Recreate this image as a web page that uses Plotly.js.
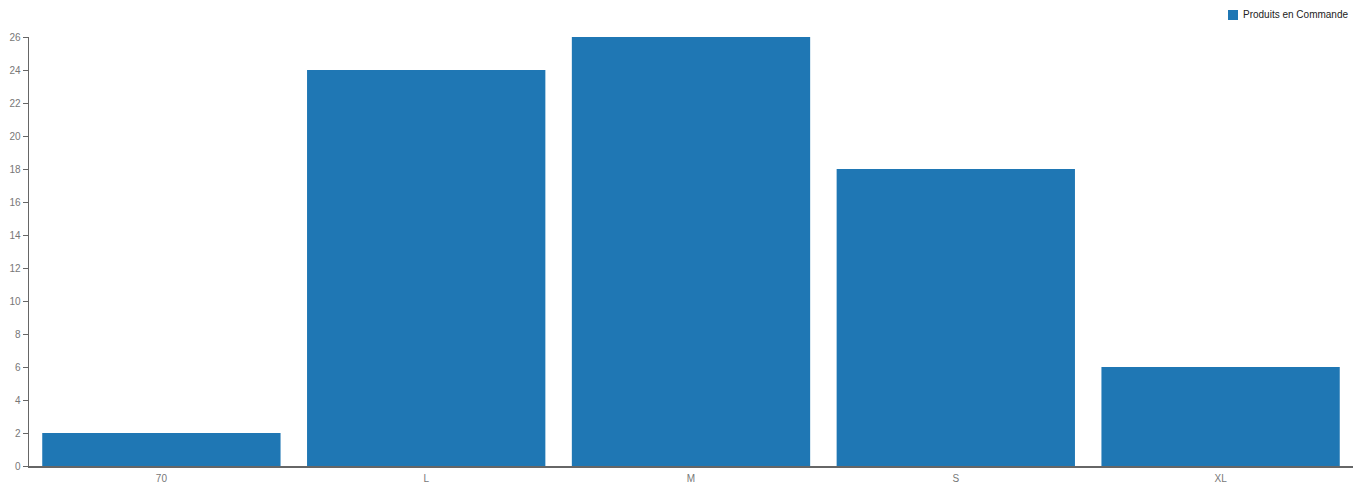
<!DOCTYPE html>
<html>
<head>
<meta charset="utf-8">
<script src="https://cdn.plot.ly/plotly-3.0.1.min.js"></script>
<style>html,body{margin:0;padding:0;background:#fff;}#chart{width:1357px;height:486px;}</style>
</head>
<body>
<div id="chart"></div>
<script>
const categories = ["70", "L", "M", "S", "XL"];
const values = [2, 24, 26, 18, 6];
const seriesName = "Produits en Commande";
const yTicks = [0, 2, 4, 6, 8, 10, 12, 14, 16, 18, 20, 22, 24, 26];
const barColor = "#1f77b4";

const trace = {
  type: "bar",
  x: categories,
  y: values,
  name: seriesName,
  marker: {color: barColor},
  showlegend: false,
  hoverinfo: "x+y"
};

const layout = {
  width: 1357,
  height: 486,
  margin: {l: 29, r: 4, t: 37, b: 20, autoexpand: false},
  paper_bgcolor: "#fff",
  plot_bgcolor: "#fff",
  bargap: 0.1,
  font: {family: "Liberation Sans, Arial, sans-serif", size: 10, color: "#777"},
  xaxis: {
    type: "category",
    showline: true, linecolor: "#666", linewidth: 1.5,
    ticks: "", showgrid: false, zeroline: false,
    ticklabelstandoff: 2,
    tickfont: {size: 10, color: "#777"}
  },
  yaxis: {
    range: [0, 26],
    tickvals: yTicks,
    showline: true, linecolor: "#666", linewidth: 1.5,
    ticks: "outside", ticklen: 5, tickcolor: "#666", tickwidth: 1,
    showgrid: false, zeroline: false,
    tickfont: {size: 10, color: "#777"}
  },
  showlegend: false,
  shapes: [{
    type: "rect", xref: "paper", yref: "paper", layer: "above",
    x0: (1228 - 29) / 1324, x1: (1238 - 29) / 1324,
    y0: (466 - 20) / 429, y1: (466 - 10) / 429,
    fillcolor: barColor, line: {width: 0}
  }],
  annotations: [{
    xref: "paper", yref: "paper",
    x: (1350 - 29) / 1324, y: (466 - 15) / 429,
    xanchor: "right", yanchor: "middle",
    text: seriesName, showarrow: false,
    font: {size: 10, color: "#222", family: "Liberation Sans, Arial, sans-serif"}
  }]
};

Plotly.newPlot("chart", [trace], layout, {displayModeBar: false, staticPlot: true});
</script>
</body>
</html>
